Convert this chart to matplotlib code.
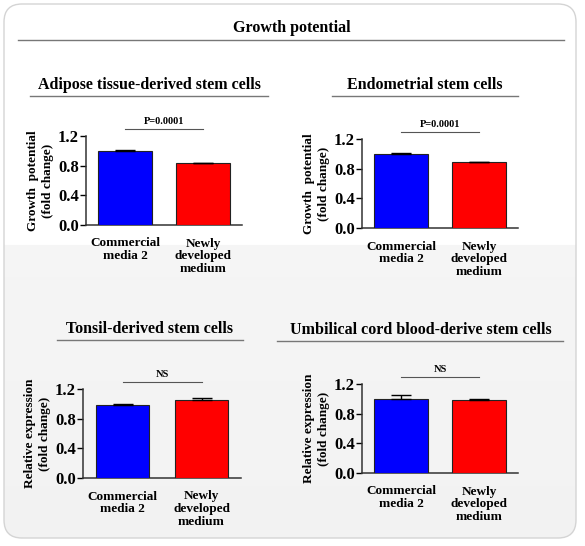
import matplotlib
matplotlib.use("Agg")
import matplotlib.pyplot as plt
import numpy as np
from matplotlib.patches import FancyBboxPatch

plt.rcParams['font.family'] = 'serif'
plt.rcParams['font.serif'] = ['Liberation Serif', 'DejaVu Serif']
plt.rcParams['font.weight'] = 'bold'
FONT = 'Liberation Serif'

# ---- data ----
main_title = "Growth potential"
panel_titles = ["Adipose tissue-derived stem cells", "Endometrial stem cells",
                "Tonsil-derived stem cells", "Umbilical cord blood-derive stem cells"]
categories = ["Commercial\nmedia 2", "Newly\ndeveloped\nmedium"]
values_adipose = [1.00, 0.835]
errors_adipose = [0.005, 0.005]
values_endo = [1.00, 0.89]
errors_endo = [0.005, 0.004]
values_tonsil = [0.99, 1.05]
errors_tonsil = [0.01, 0.03]
values_ucb = [1.00, 0.99]
errors_ucb = [0.05, 0.01]
sig_labels = ["P=0.0001", "P=0.0001", "NS", "NS"]
ylabels = ["Growth  potential\n(fold change)", "Growth  potential\n(fold change)",
           "Relative expression\n(fold change)", "Relative expression\n(fold change)"]
yticks = [0.0, 0.4, 0.8, 1.2]
ytick_labels = ["0.0", "0.4", "0.8", "1.2"]
bar_colors = ["#0000ff", "#ff0000"]

W, H = 585, 546
fig = plt.figure(figsize=(W / 100, H / 100), dpi=100)

# background axes in pixel coordinates
bg = fig.add_axes([0, 0, 1, 1], zorder=0)
bg.axis('off')

# background gradient (white top, light grey lower part)
n = 534
ys = np.linspace(0, 1, n)
g = np.where(ys < (245 - 4) / 534, 1.0, 0.962 - 0.02 * (ys - 0.45))
img = np.repeat(g[:, None], 2, axis=1)
img = np.stack([img, img, img], axis=-1)
im = bg.imshow(img, extent=(4, 576, 538, 4), aspect='auto', zorder=1,
               interpolation='bilinear')
clipbox = FancyBboxPatch((4, 4), 572, 534, boxstyle="round,pad=0,rounding_size=18",
                         facecolor='none', edgecolor='none')
bg.add_patch(clipbox)
im.set_clip_path(clipbox)
box = FancyBboxPatch((4, 4), 572, 534, boxstyle="round,pad=0,rounding_size=18",
                     facecolor='none', edgecolor='#d4d4d4', linewidth=1.0, zorder=2)
bg.add_patch(box)
bg.set_xlim(0, W)
bg.set_ylim(H, 0)

# main title
bg.text(292, 28, main_title, ha='center', va='center', fontsize=11.5, fontweight='bold',
        family=FONT, zorder=3)
bg.plot([18, 564], [40, 40], color='#777777', lw=1.0, zorder=3)

# panel title positions (pixels)
title_pos = [(149, 85), (425, 85), (150, 329), (421, 330)]
underline = [(30, 268, 96), (332, 518, 96), (57, 243, 340), (277, 563, 341)]
for (tx, ty), (x0, x1, ly), t in zip(title_pos, underline, panel_titles):
    bg.text(tx, ty, t, ha='center', va='center', fontsize=11.5, fontweight='bold',
            family=FONT, zorder=3)
    bg.plot([x0, x1], [ly, ly], color='#777777', lw=1.0, zorder=3)

# axes rects in pixels: x0, x1, ytop, ybottom
rects = [(86, 242, 136, 225), (362, 518, 139, 228), (83, 241, 389, 478), (362, 518, 384, 473)]
all_vals = [values_adipose, values_endo, values_tonsil, values_ucb]
all_errs = [errors_adipose, errors_endo, errors_tonsil, errors_ucb]

for i, ((x0, x1, yt, yb), vals, errs) in enumerate(zip(rects, all_vals, all_errs)):
    ax = fig.add_axes([x0 / W, 1 - yb / H, (x1 - x0) / W, (yb - yt) / H], zorder=5)
    ax.patch.set_alpha(0)
    x = np.arange(len(categories))
    ax.bar(x, vals, width=0.68, color=bar_colors, edgecolor='#222222', linewidth=0.8, zorder=3)
    ax.errorbar(x, vals, yerr=[[0, 0], errs], fmt='none', ecolor='black',
                elinewidth=1.0, capsize=7, capthick=1.0, zorder=4)
    ax.set_xlim(-0.5, 1.5)
    ax.set_ylim(0, 1.2)
    ax.set_yticks(yticks)
    ax.set_yticklabels(ytick_labels, fontsize=12, fontweight='bold', family=FONT)
    ax.set_xticks(x)
    ax.set_xticklabels(categories, fontsize=9.5, fontweight='bold', linespacing=1.1,
                       family=FONT)
    ax.tick_params(axis='x', length=0, pad=9)
    ax.tick_params(axis='y', length=4, width=1.0, pad=1, direction='out')
    for s in ['top', 'right']:
        ax.spines[s].set_visible(False)
    for s in ['left', 'bottom']:
        ax.spines[s].set_linewidth(1.1)
        ax.spines[s].set_color('#333333')
    ax.set_ylabel(ylabels[i], fontsize=9.5, fontweight='bold', linespacing=1.3,
                  labelpad=3, family=FONT)
    # significance annotation
    ax.plot([0, 1], [1.29, 1.29], color='#555555', lw=0.8, clip_on=False)
    ax.text(0.5, 1.33, sig_labels[i], ha='center', va='bottom', fontsize=7.5,
            fontweight='bold', family=FONT, clip_on=False)

fig.savefig("out.png", dpi=100)
